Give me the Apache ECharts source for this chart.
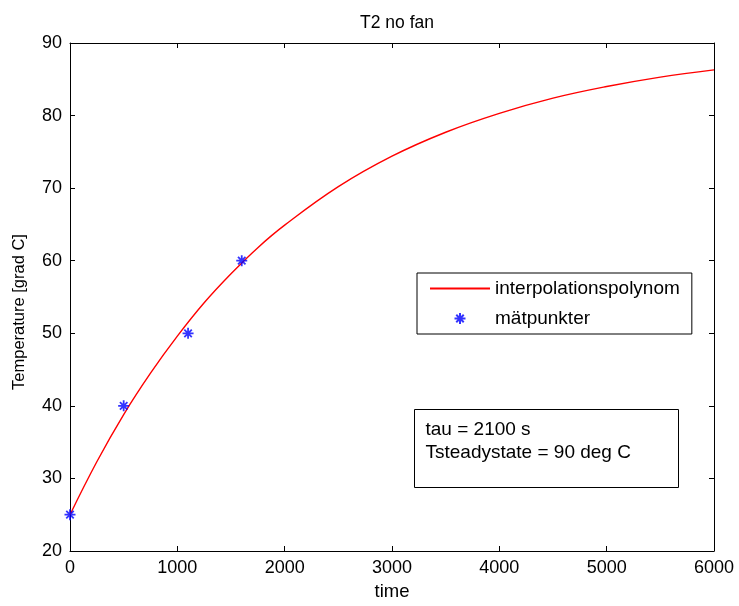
<!DOCTYPE html>
<html>
<head>
<meta charset="utf-8">
<title>T2 no fan</title>
<script src="https://cdn.jsdelivr.net/npm/echarts@6/dist/echarts.min.js"></script>
<style>
  html, body { margin: 0; padding: 0; background: #fff; }
  #chart { width: 739px; height: 606px; }
</style>
</head>
<body>
<div id="chart"></div>
<script>
// Fitted heating curve (time in s, temperature in grad C)
const curveTime = [0, 250, 500, 750, 1000, 1250, 1500, 1750, 2000, 2500, 3000, 3500, 4000, 4500, 5000, 5500, 6000];
const curveTemp = [25.0, 32.3, 38.8, 44.5, 49.6, 54.2, 58.2, 61.8, 64.9, 70.2, 74.4, 77.7, 80.3, 82.4, 84.0, 85.3, 86.3];

// Measured points
const measTime = [0, 500, 1100, 1600];
const measTemp = [25, 40, 50, 60];

// Axis ticks
const xTicks = [0, 1000, 2000, 3000, 4000, 5000, 6000];
const yTicks = [20, 30, 40, 50, 60, 70, 80, 90];

// Annotation values
const tauSeconds = 2100;
const steadyStateTemp = 90;

const seriesNames = ['interpolationspolynom', 'mätpunkter'];
const chartTitle = 'T2 no fan';
const xName = 'time';
const yName = 'Temperature [grad C]';

const FONT = "'Liberation Sans', Arial, Helvetica, sans-serif";
const STAR = 'path://M0,5 L10,5 M5,0 L5,10 M1.6,1.6 L8.4,8.4 M8.4,1.6 L1.6,8.4';

const chart = echarts.init(document.getElementById('chart'), null, { renderer: 'canvas' });

const xMin = xTicks[0], xMax = xTicks[xTicks.length - 1], xStep = xTicks[1] - xTicks[0];
const yMin = yTicks[0], yMax = yTicks[yTicks.length - 1], yStep = yTicks[1] - yTicks[0];

// Each axis draws its own line and inward ticks, giving a closed box
function boxAxis(extra) {
  return Object.assign({
    type: 'value',
    axisLine: { show: true, onZero: false, lineStyle: { color: '#000', width: 1 } },
    axisTick: { show: true, inside: true, length: 5, lineStyle: { color: '#000', width: 1 } },
    splitLine: { show: false },
    axisLabel: { show: false }
  }, extra);
}

chart.setOption({
  backgroundColor: '#fff',
  animation: false,
  textStyle: { fontFamily: FONT, color: '#000' },
  title: {
    text: chartTitle,
    left: 392,
    textAlign: 'center',
    top: 9,
    textStyle: { fontFamily: FONT, fontSize: 17.5, fontWeight: 'normal', color: '#000' }
  },
  grid: { left: 70, right: 25, top: 43, bottom: 55, containLabel: false },
  xAxis: [
    boxAxis({
      min: xMin, max: xMax, interval: xStep,
      position: 'bottom',
      name: xName,
      nameLocation: 'middle',
      nameGap: 31,
      nameTextStyle: { fontFamily: FONT, fontSize: 18.5, color: '#000' },
      axisLabel: {
        show: true, margin: 8, fontFamily: FONT, fontSize: 18, color: '#000',
        formatter: v => String(v)
      }
    }),
    boxAxis({ min: xMin, max: xMax, interval: xStep, position: 'top' })
  ],
  yAxis: [
    boxAxis({
      min: yMin, max: yMax, interval: yStep,
      position: 'left',
      name: yName,
      nameLocation: 'middle',
      nameRotate: 90,
      nameGap: 42,
      nameTextStyle: { fontFamily: FONT, fontSize: 16.5, color: '#000', padding: [0, 30, 0, 0] },
      axisLabel: {
        show: true, margin: 8, fontFamily: FONT, fontSize: 18, color: '#000',
        formatter: v => String(v)
      }
    }),
    boxAxis({ min: yMin, max: yMax, interval: yStep, position: 'right' })
  ],
  legend: {
    orient: 'vertical',
    left: 417,
    top: 273,
    padding: [6, 12, 6, 12],
    itemWidth: 60,
    itemHeight: 11,
    itemGap: 11,
    backgroundColor: '#fff',
    borderColor: '#000',
    borderWidth: 1,
    borderRadius: 0,
    selectedMode: false,
    textStyle: { fontFamily: FONT, fontSize: 19, color: '#000' },
    data: [
      // line-only key for the fitted curve
      { name: seriesNames[0], itemStyle: { color: 'rgba(0,0,0,0)', borderColor: 'rgba(0,0,0,0)', borderWidth: 0 } },
      { name: seriesNames[1] }
    ]
  },
  series: [
    {
      name: seriesNames[0],
      type: 'line',
      xAxisIndex: 0,
      yAxisIndex: 0,
      smooth: 0.4,
      symbol: 'none',
      lineStyle: { color: '#ff0000', width: 1.4 },
      itemStyle: { color: '#ff0000' },
      data: curveTime.map((t, i) => [t, curveTemp[i]]),
      z: 2
    },
    {
      name: seriesNames[1],
      type: 'scatter',
      xAxisIndex: 0,
      yAxisIndex: 0,
      symbol: STAR,
      symbolSize: 11,
      itemStyle: { color: 'none', borderColor: '#0000ff', borderWidth: 1.8 },
      data: measTime.map((t, i) => [t, measTemp[i]]),
      z: 3
    }
  ],
  graphic: [
    {
      type: 'group',
      left: 414,
      top: 409,
      z: 10,
      children: [
        {
          type: 'rect',
          shape: { x: 0, y: 0, width: 264, height: 78 },
          style: { fill: '#fff', stroke: '#000', lineWidth: 1 }
        },
        {
          type: 'text',
          x: 11,
          y: 9,
          style: {
            text: 'tau = ' + tauSeconds + ' s\nTsteadystate = ' + steadyStateTemp + ' deg C',
            font: '19px ' + FONT,
            lineHeight: 23,
            fill: '#000'
          }
        }
      ]
    }
  ]
});
</script>
</body>
</html>
